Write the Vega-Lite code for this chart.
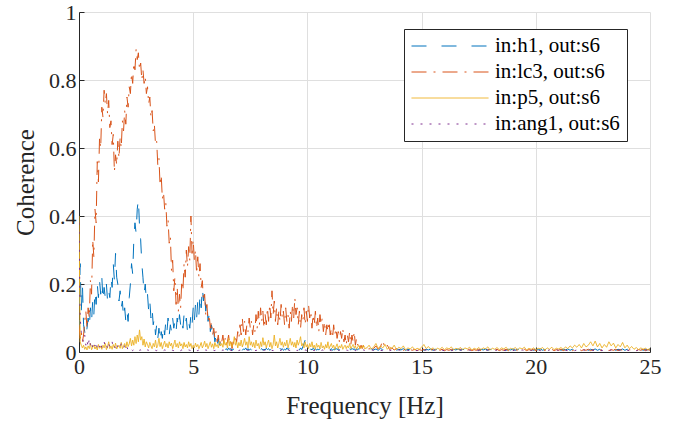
{
  "$schema": "https://vega.github.io/schema/vega-lite/v6.json",
  "width": 571,
  "height": 340,
  "autosize": "none",
  "padding": {"left": 79, "top": 12, "right": 25, "bottom": 71},
  "background": "white",
  "config": {
    "view": {"stroke": null},
    "font": "Liberation Serif",
    "axis": {
      "labelFont": "Liberation Serif", "titleFont": "Liberation Serif",
      "labelFontSize": 22, "titleFontSize": 25, "titleFontWeight": "normal",
      "labelColor": "#262626", "titleColor": "#262626",
      "domainColor": "#262626", "tickColor": "#262626", "gridColor": "#dfdfdf",
      "tickSize": -5, "domainWidth": 1, "tickWidth": 1, "gridWidth": 1
    }
  },
  "datasets": {
    "names": [
      {"k": "h", "name": "in:h1, out:s6"},
      {"k": "l", "name": "in:lc3, out:s6"},
      {"k": "p", "name": "in:p5, out:s6"},
      {"k": "a", "name": "in:ang1, out:s6"}
    ],
    "main": [
{"f":0,"h":0.05,"l":0.08,"p":0.4,"a":0.38},
{"f":0.05,"h":0.26,"l":0.04,"p":0.03,"a":0.1},
{"f":0.1,"h":0.12,"l":0.06,"p":0.02,"a":0.06},
{"f":0.15,"h":0.2,"l":0.03,"p":0.012,"a":0.04},
{"f":0.2,"h":0.08,"l":0.05,"p":0.02,"a":0.03},
{"f":0.25,"h":0.06,"l":0.09,"p":0.008,"a":0.05},
{"f":0.3,"h":0.04,"l":0.12,"p":0.015,"a":0.02},
{"f":0.35,"h":0.07,"l":0.07,"p":0.006,"a":0.035},
{"f":0.4,"h":0.1,"l":0.13,"p":0.018,"a":0.015},
{"f":0.45,"h":0.07,"l":0.1,"p":0.01,"a":0.04},
{"f":0.5,"h":0.13,"l":0.21,"p":0.025,"a":0.02},
{"f":0.55,"h":0.09,"l":0.17,"p":0.007,"a":0.03},
{"f":0.6,"h":0.15,"l":0.33,"p":0.014,"a":0.012},
{"f":0.65,"h":0.11,"l":0.28,"p":0.02,"a":0.025},
{"f":0.7,"h":0.18,"l":0.42,"p":0.009,"a":0.018},
{"f":0.75,"h":0.14,"l":0.38,"p":0.016,"a":0.03},
{"f":0.8,"h":0.2,"l":0.56,"p":0.006,"a":0.01},
{"f":0.85,"h":0.16,"l":0.5,"p":0.022,"a":0.022},
{"f":0.9,"h":0.21,"l":0.63,"p":0.011,"a":0.015},
{"f":0.95,"h":0.17,"l":0.6,"p":0.017,"a":0.028},
{"f":1,"h":0.22,"l":0.72,"p":0.008,"a":0.012},
{"f":1.05,"h":0.15,"l":0.69,"p":0.02,"a":0.02},
{"f":1.1,"h":0.19,"l":0.77,"p":0.012,"a":0.03},
{"f":1.15,"h":0.16,"l":0.73,"p":0.025,"a":0.015},
{"f":1.2,"h":0.2,"l":0.76,"p":0.007,"a":0.022},
{"f":1.25,"h":0.15,"l":0.7,"p":0.015,"a":0.01},
{"f":1.3,"h":0.18,"l":0.74,"p":0.03,"a":0.025},
{"f":1.35,"h":0.16,"l":0.66,"p":0.01,"a":0.014},
{"f":1.4,"h":0.22,"l":0.68,"p":0.018,"a":0.02},
{"f":1.45,"h":0.19,"l":0.61,"p":0.008,"a":0.03},
{"f":1.5,"h":0.26,"l":0.64,"p":0.022,"a":0.012},
{"f":1.55,"h":0.21,"l":0.53,"p":0.012,"a":0.018},
{"f":1.6,"h":0.29,"l":0.58,"p":0.026,"a":0.01},
{"f":1.65,"h":0.22,"l":0.55,"p":0.009,"a":0.024},
{"f":1.7,"h":0.2,"l":0.62,"p":0.016,"a":0.015},
{"f":1.75,"h":0.15,"l":0.57,"p":0.02,"a":0.02},
{"f":1.8,"h":0.18,"l":0.63,"p":0.011,"a":0.012},
{"f":1.85,"h":0.13,"l":0.6,"p":0.028,"a":0.025},
{"f":1.9,"h":0.15,"l":0.68,"p":0.01,"a":0.015},
{"f":1.95,"h":0.1,"l":0.65,"p":0.018,"a":0.01},
{"f":2,"h":0.13,"l":0.71,"p":0.025,"a":0.02},
{"f":2.05,"h":0.09,"l":0.67,"p":0.012,"a":0.008},
{"f":2.1,"h":0.12,"l":0.75,"p":0.03,"a":0.014},
{"f":2.15,"h":0.09,"l":0.72,"p":0.016,"a":0.006},
{"f":2.2,"h":0.16,"l":0.78,"p":0.024,"a":0.01},
{"f":2.25,"h":0.2,"l":0.76,"p":0.04,"a":0.005},
{"f":2.3,"h":0.26,"l":0.82,"p":0.018,"a":0.008},
{"f":2.35,"h":0.23,"l":0.79,"p":0.035,"a":0.004},
{"f":2.4,"h":0.33,"l":0.85,"p":0.02,"a":0.007},
{"f":2.45,"h":0.38,"l":0.83,"p":0.045,"a":0.005},
{"f":2.5,"h":0.35,"l":0.89,"p":0.025,"a":0.006},
{"f":2.55,"h":0.42,"l":0.86,"p":0.05,"a":0.004},
{"f":2.6,"h":0.45,"l":0.88,"p":0.03,"a":0.007},
{"f":2.65,"h":0.37,"l":0.83,"p":0.065,"a":0.005},
{"f":2.7,"h":0.33,"l":0.85,"p":0.035,"a":0.006},
{"f":2.75,"h":0.26,"l":0.8,"p":0.045,"a":0.004},
{"f":2.8,"h":0.22,"l":0.83,"p":0.02,"a":0.006},
{"f":2.85,"h":0.17,"l":0.79,"p":0.038,"a":0.005},
{"f":2.9,"h":0.2,"l":0.81,"p":0.015,"a":0.007},
{"f":2.95,"h":0.15,"l":0.76,"p":0.03,"a":0.004},
{"f":3,"h":0.17,"l":0.78,"p":0.022,"a":0.006},
{"f":3.05,"h":0.12,"l":0.73,"p":0.012,"a":0.005},
{"f":3.1,"h":0.15,"l":0.75,"p":0.028,"a":0.004},
{"f":3.15,"h":0.1,"l":0.69,"p":0.018,"a":0.006},
{"f":3.2,"h":0.13,"l":0.71,"p":0.01,"a":0.005},
{"f":3.25,"h":0.08,"l":0.65,"p":0.025,"a":0.004},
{"f":3.3,"h":0.1,"l":0.67,"p":0.015,"a":0.006},
{"f":3.35,"h":0.05,"l":0.61,"p":0.035,"a":0.005},
{"f":3.4,"h":0.08,"l":0.62,"p":0.012,"a":0.004},
{"f":3.45,"h":0.04,"l":0.55,"p":0.02,"a":0.006},
{"f":3.5,"h":0.07,"l":0.57,"p":0.04,"a":0.005},
{"f":3.55,"h":0.03,"l":0.49,"p":0.016,"a":0.004},
{"f":3.6,"h":0.06,"l":0.52,"p":0.028,"a":0.006},
{"f":3.65,"h":0.04,"l":0.45,"p":0.01,"a":0.005},
{"f":3.7,"h":0.08,"l":0.47,"p":0.022,"a":0.004},
{"f":3.75,"h":0.05,"l":0.42,"p":0.032,"a":0.006},
{"f":3.8,"h":0.09,"l":0.44,"p":0.015,"a":0.005},
{"f":3.85,"h":0.06,"l":0.37,"p":0.025,"a":0.004},
{"f":3.9,"h":0.1,"l":0.39,"p":0.012,"a":0.006},
{"f":3.95,"h":0.05,"l":0.32,"p":0.03,"a":0.005},
{"f":4,"h":0.08,"l":0.34,"p":0.018,"a":0.004},
{"f":4.05,"h":0.06,"l":0.24,"p":0.026,"a":0.006},
{"f":4.1,"h":0.1,"l":0.27,"p":0.01,"a":0.005},
{"f":4.15,"h":0.07,"l":0.18,"p":0.022,"a":0.004},
{"f":4.2,"h":0.09,"l":0.22,"p":0.035,"a":0.006},
{"f":4.25,"h":0.06,"l":0.14,"p":0.015,"a":0.005},
{"f":4.3,"h":0.1,"l":0.19,"p":0.025,"a":0.004},
{"f":4.35,"h":0.07,"l":0.12,"p":0.012,"a":0.006},
{"f":4.4,"h":0.11,"l":0.17,"p":0.03,"a":0.005},
{"f":4.45,"h":0.08,"l":0.13,"p":0.018,"a":0.004},
{"f":4.5,"h":0.1,"l":0.21,"p":0.024,"a":0.006},
{"f":4.55,"h":0.07,"l":0.18,"p":0.01,"a":0.005},
{"f":4.6,"h":0.11,"l":0.26,"p":0.028,"a":0.004},
{"f":4.65,"h":0.08,"l":0.22,"p":0.015,"a":0.006},
{"f":4.7,"h":0.1,"l":0.3,"p":0.022,"a":0.005},
{"f":4.75,"h":0.06,"l":0.25,"p":0.012,"a":0.004},
{"f":4.8,"h":0.09,"l":0.31,"p":0.03,"a":0.006},
{"f":4.85,"h":0.07,"l":0.27,"p":0.016,"a":0.005},
{"f":4.9,"h":0.11,"l":0.4,"p":0.025,"a":0.004},
{"f":4.95,"h":0.08,"l":0.29,"p":0.01,"a":0.006},
{"f":5,"h":0.13,"l":0.33,"p":0.02,"a":0.005},
{"f":5.05,"h":0.09,"l":0.27,"p":0.012,"a":0.004},
{"f":5.1,"h":0.14,"l":0.3,"p":0.026,"a":0.006},
{"f":5.15,"h":0.1,"l":0.23,"p":0.015,"a":0.005},
{"f":5.2,"h":0.15,"l":0.28,"p":0.022,"a":0.004},
{"f":5.25,"h":0.11,"l":0.22,"p":0.01,"a":0.006},
{"f":5.3,"h":0.17,"l":0.26,"p":0.018,"a":0.005},
{"f":5.35,"h":0.13,"l":0.19,"p":0.028,"a":0.004},
{"f":5.4,"h":0.19,"l":0.21,"p":0.012,"a":0.006},
{"f":5.45,"h":0.15,"l":0.15,"p":0.02,"a":0.005},
{"f":5.5,"h":0.18,"l":0.17,"p":0.032,"a":0.004},
{"f":5.55,"h":0.12,"l":0.11,"p":0.015,"a":0.006},
{"f":5.6,"h":0.15,"l":0.14,"p":0.025,"a":0.005},
{"f":5.65,"h":0.09,"l":0.09,"p":0.01,"a":0.004},
{"f":5.7,"h":0.11,"l":0.11,"p":0.02,"a":0.006},
{"f":5.75,"h":0.06,"l":0.07,"p":0.03,"a":0.005},
{"f":5.8,"h":0.08,"l":0.09,"p":0.014,"a":0.004},
{"f":5.85,"h":0.04,"l":0.05,"p":0.024,"a":0.006},
{"f":5.9,"h":0.06,"l":0.07,"p":0.01,"a":0.005},
{"f":5.95,"h":0.03,"l":0.04,"p":0.028,"a":0.004},
{"f":6,"h":0.05,"l":0.06,"p":0.016,"a":0.006},
{"f":6.05,"h":0.02,"l":0.03,"p":0.022,"a":0.005},
{"f":6.1,"h":0.04,"l":0.05,"p":0.012,"a":0.004},
{"f":6.15,"h":0.02,"l":0.02,"p":0.03,"a":0.006},
{"f":6.2,"h":0.03,"l":0.04,"p":0.018,"a":0.005},
{"f":6.25,"h":0.012,"l":0.03,"p":0.025,"a":0.004},
{"f":6.3,"h":0.008,"l":0.05,"p":0.014,"a":0.006},
{"f":6.35,"h":0.015,"l":0.02,"p":0.035,"a":0.005},
{"f":6.4,"h":0.006,"l":0.04,"p":0.02,"a":0.004},
{"f":6.45,"h":0.01,"l":0.02,"p":0.028,"a":0.006},
{"f":6.5,"h":0.005,"l":0.03,"p":0.012,"a":0.005},
{"f":6.55,"h":0.012,"l":0.05,"p":0.04,"a":0.004},
{"f":6.6,"h":0.007,"l":0.02,"p":0.018,"a":0.006},
{"f":6.65,"h":0.01,"l":0.04,"p":0.03,"a":0.005},
{"f":6.7,"h":0.004,"l":0.01,"p":0.015,"a":0.004},
{"f":6.75,"h":0.009,"l":0.03,"p":0.025,"a":0.006},
{"f":6.8,"h":0.006,"l":0.02,"p":0.045,"a":0.005},
{"f":6.85,"h":0.012,"l":0.05,"p":0.02,"a":0.004},
{"f":6.9,"h":0.005,"l":0.03,"p":0.03,"a":0.006},
{"f":6.95,"h":0.008,"l":0.06,"p":0.012,"a":0.005},
{"f":7,"h":0.01,"l":0.04,"p":0.028,"a":0.004},
{"f":7.05,"h":0.006,"l":0.08,"p":0.018,"a":0.006},
{"f":7.1,"h":0.012,"l":0.05,"p":0.035,"a":0.005},
{"f":7.15,"h":0.005,"l":0.1,"p":0.015,"a":0.004},
{"f":7.2,"h":0.009,"l":0.06,"p":0.025,"a":0.006},
{"f":7.25,"h":0.007,"l":0.09,"p":0.04,"a":0.005},
{"f":7.3,"h":0.012,"l":0.05,"p":0.02,"a":0.004},
{"f":7.35,"h":0.006,"l":0.08,"p":0.03,"a":0.006},
{"f":7.4,"h":0.01,"l":0.06,"p":0.012,"a":0.005},
{"f":7.45,"h":0.005,"l":0.1,"p":0.045,"a":0.004},
{"f":7.5,"h":0.009,"l":0.07,"p":0.02,"a":0.006},
{"f":7.55,"h":0.006,"l":0.09,"p":0.03,"a":0.005},
{"f":7.6,"h":0.011,"l":0.05,"p":0.015,"a":0.004},
{"f":7.65,"h":0.007,"l":0.08,"p":0.028,"a":0.006},
{"f":7.7,"h":0.01,"l":0.06,"p":0.012,"a":0.005},
{"f":7.75,"h":0.005,"l":0.11,"p":0.035,"a":0.004},
{"f":7.8,"h":0.009,"l":0.07,"p":0.018,"a":0.006},
{"f":7.85,"h":0.006,"l":0.12,"p":0.025,"a":0.005},
{"f":7.9,"h":0.012,"l":0.08,"p":0.01,"a":0.004},
{"f":7.95,"h":0.007,"l":0.13,"p":0.03,"a":0.006},
{"f":8,"h":0.01,"l":0.09,"p":0.016,"a":0.005},
{"f":8.05,"h":0.005,"l":0.12,"p":0.042,"a":0.004},
{"f":8.1,"h":0.008,"l":0.07,"p":0.02,"a":0.006},
{"f":8.15,"h":0.006,"l":0.11,"p":0.03,"a":0.005},
{"f":8.2,"h":0.011,"l":0.08,"p":0.012,"a":0.004},
{"f":8.25,"h":0.007,"l":0.13,"p":0.025,"a":0.006},
{"f":8.3,"h":0.01,"l":0.09,"p":0.035,"a":0.005},
{"f":8.35,"h":0.005,"l":0.14,"p":0.015,"a":0.004},
{"f":8.4,"h":0.009,"l":0.1,"p":0.028,"a":0.006},
{"f":8.45,"h":0.006,"l":0.18,"p":0.01,"a":0.005},
{"f":8.5,"h":0.012,"l":0.11,"p":0.022,"a":0.004},
{"f":8.55,"h":0.007,"l":0.15,"p":0.05,"a":0.006},
{"f":8.6,"h":0.01,"l":0.09,"p":0.018,"a":0.005},
{"f":8.65,"h":0.005,"l":0.13,"p":0.03,"a":0.004},
{"f":8.7,"h":0.009,"l":0.08,"p":0.012,"a":0.006},
{"f":8.75,"h":0.006,"l":0.12,"p":0.025,"a":0.005},
{"f":8.8,"h":0.011,"l":0.09,"p":0.04,"a":0.004},
{"f":8.85,"h":0.007,"l":0.14,"p":0.02,"a":0.006},
{"f":8.9,"h":0.01,"l":0.1,"p":0.03,"a":0.005},
{"f":8.95,"h":0.005,"l":0.12,"p":0.014,"a":0.004},
{"f":9,"h":0.008,"l":0.08,"p":0.028,"a":0.006},
{"f":9.05,"h":0.006,"l":0.13,"p":0.018,"a":0.005},
{"f":9.1,"h":0.012,"l":0.09,"p":0.035,"a":0.004},
{"f":9.15,"h":0.007,"l":0.11,"p":0.012,"a":0.006},
{"f":9.2,"h":0.01,"l":0.07,"p":0.025,"a":0.005},
{"f":9.25,"h":0.005,"l":0.12,"p":0.04,"a":0.004},
{"f":9.3,"h":0.009,"l":0.09,"p":0.02,"a":0.006},
{"f":9.35,"h":0.006,"l":0.14,"p":0.03,"a":0.005},
{"f":9.4,"h":0.011,"l":0.1,"p":0.015,"a":0.004},
{"f":9.45,"h":0.007,"l":0.16,"p":0.028,"a":0.006},
{"f":9.5,"h":0.01,"l":0.11,"p":0.012,"a":0.005},
{"f":9.55,"h":0.005,"l":0.13,"p":0.035,"a":0.004},
{"f":9.6,"h":0.009,"l":0.08,"p":0.02,"a":0.006},
{"f":9.65,"h":0.006,"l":0.12,"p":0.03,"a":0.005},
{"f":9.7,"h":0.012,"l":0.07,"p":0.045,"a":0.004},
{"f":9.75,"h":0.007,"l":0.11,"p":0.018,"a":0.006},
{"f":9.8,"h":0.015,"l":0.09,"p":0.025,"a":0.005},
{"f":9.85,"h":0.025,"l":0.13,"p":0.012,"a":0.004},
{"f":9.9,"h":0.035,"l":0.08,"p":0.03,"a":0.006},
{"f":9.95,"h":0.012,"l":0.12,"p":0.015,"a":0.005},
{"f":10,"h":0.006,"l":0.09,"p":0.022,"a":0.004},
{"f":10.05,"h":0.01,"l":0.14,"p":0.01,"a":0.006},
{"f":10.1,"h":0.005,"l":0.1,"p":0.025,"a":0.005},
{"f":10.15,"h":0.009,"l":0.12,"p":0.015,"a":0.004},
{"f":10.2,"h":0.006,"l":0.07,"p":0.03,"a":0.006},
{"f":10.25,"h":0.011,"l":0.11,"p":0.012,"a":0.005},
{"f":10.3,"h":0.007,"l":0.08,"p":0.02,"a":0.004},
{"f":10.35,"h":0.01,"l":0.12,"p":0.008,"a":0.006},
{"f":10.4,"h":0.005,"l":0.07,"p":0.025,"a":0.005},
{"f":10.45,"h":0.009,"l":0.1,"p":0.014,"a":0.004},
{"f":10.5,"h":0.006,"l":0.06,"p":0.02,"a":0.006},
{"f":10.55,"h":0.01,"l":0.11,"p":0.01,"a":0.005},
{"f":10.6,"h":0.005,"l":0.08,"p":0.028,"a":0.004},
{"f":10.65,"h":0.008,"l":0.1,"p":0.012,"a":0.006},
{"f":10.7,"h":0.006,"l":0.06,"p":0.018,"a":0.005},
{"f":10.75,"h":0.011,"l":0.09,"p":0.008,"a":0.004},
{"f":10.8,"h":0.007,"l":0.05,"p":0.022,"a":0.006},
{"f":10.85,"h":0.01,"l":0.08,"p":0.012,"a":0.005},
{"f":10.9,"h":0.005,"l":0.06,"p":0.03,"a":0.004},
{"f":10.95,"h":0.009,"l":0.09,"p":0.01,"a":0.006},
{"f":11,"h":0.006,"l":0.05,"p":0.018,"a":0.005},
{"f":11.05,"h":0.01,"l":0.07,"p":0.025,"a":0.004},
{"f":11.1,"h":0.005,"l":0.04,"p":0.012,"a":0.006},
{"f":11.15,"h":0.008,"l":0.08,"p":0.02,"a":0.005},
{"f":11.2,"h":0.006,"l":0.05,"p":0.008,"a":0.004},
{"f":11.25,"h":0.011,"l":0.07,"p":0.016,"a":0.006},
{"f":11.3,"h":0.007,"l":0.04,"p":0.024,"a":0.005},
{"f":11.35,"h":0.01,"l":0.06,"p":0.01,"a":0.004},
{"f":11.4,"h":0.005,"l":0.03,"p":0.018,"a":0.006},
{"f":11.45,"h":0.009,"l":0.06,"p":0.012,"a":0.005},
{"f":11.5,"h":0.006,"l":0.04,"p":0.022,"a":0.004},
{"f":11.55,"h":0.01,"l":0.07,"p":0.008,"a":0.006},
{"f":11.6,"h":0.005,"l":0.03,"p":0.015,"a":0.005},
{"f":11.65,"h":0.008,"l":0.05,"p":0.02,"a":0.004},
{"f":11.7,"h":0.006,"l":0.02,"p":0.01,"a":0.006},
{"f":11.75,"h":0.01,"l":0.05,"p":0.018,"a":0.005},
{"f":11.8,"h":0.005,"l":0.03,"p":0.012,"a":0.004},
{"f":11.85,"h":0.009,"l":0.06,"p":0.025,"a":0.006},
{"f":11.9,"h":0.006,"l":0.02,"p":0.01,"a":0.005},
{"f":11.95,"h":0.011,"l":0.05,"p":0.016,"a":0.004},
{"f":12,"h":0.007,"l":0.03,"p":0.022,"a":0.006},
{"f":12.05,"h":0.01,"l":0.06,"p":0.012,"a":0.005},
{"f":12.1,"h":0.005,"l":0.02,"p":0.018,"a":0.004},
{"f":12.15,"h":0.009,"l":0.04,"p":0.008,"a":0.006},
{"f":12.2,"h":0.006,"l":0.02,"p":0.014,"a":0.005},
{"f":12.25,"h":0.01,"l":0.03,"p":0.02,"a":0.004},
{"f":12.3,"h":0.005,"l":0.01,"p":0.01,"a":0.006},
{"f":12.35,"h":0.008,"l":0.02,"p":0.016,"a":0.005},
{"f":12.4,"h":0.006,"l":0.01,"p":0.012,"a":0.004},
{"f":12.45,"h":0.01,"l":0.02,"p":0.02,"a":0.006},
{"f":12.5,"h":0.005,"l":0.01,"p":0.01,"a":0.005},
{"f":12.6,"h":0.008,"l":0.015,"p":0.012,"a":0.005},
{"f":12.7,"h":0.005,"l":0.008,"p":0.02,"a":0.004},
{"f":12.8,"h":0.01,"l":0.02,"p":0.008,"a":0.006},
{"f":12.9,"h":0.006,"l":0.01,"p":0.015,"a":0.005},
{"f":13,"h":0.009,"l":0.018,"p":0.025,"a":0.004},
{"f":13.1,"h":0.005,"l":0.008,"p":0.01,"a":0.006},
{"f":13.2,"h":0.011,"l":0.015,"p":0.018,"a":0.005},
{"f":13.3,"h":0.006,"l":0.035,"p":0.012,"a":0.004},
{"f":13.4,"h":0.009,"l":0.01,"p":0.022,"a":0.006},
{"f":13.5,"h":0.005,"l":0.02,"p":0.008,"a":0.005},
{"f":13.6,"h":0.008,"l":0.007,"p":0.015,"a":0.004},
{"f":13.7,"h":0.006,"l":0.012,"p":0.01,"a":0.006},
{"f":13.8,"h":0.01,"l":0.006,"p":0.02,"a":0.005},
{"f":13.9,"h":0.005,"l":0.01,"p":0.007,"a":0.004},
{"f":14,"h":0.008,"l":0.005,"p":0.014,"a":0.006},
{"f":14.1,"h":0.006,"l":0.009,"p":0.01,"a":0.005},
{"f":14.2,"h":0.01,"l":0.005,"p":0.018,"a":0.004},
{"f":14.3,"h":0.005,"l":0.008,"p":0.006,"a":0.006},
{"f":14.4,"h":0.008,"l":0.004,"p":0.012,"a":0.005},
{"f":14.5,"h":0.006,"l":0.007,"p":0.009,"a":0.004},
{"f":14.6,"h":0.009,"l":0.005,"p":0.015,"a":0.006},
{"f":14.7,"h":0.005,"l":0.008,"p":0.006,"a":0.005},
{"f":14.8,"h":0.008,"l":0.004,"p":0.011,"a":0.004},
{"f":14.9,"h":0.006,"l":0.007,"p":0.008,"a":0.006},
{"f":15,"h":0.01,"l":0.005,"p":0.014,"a":0.005},
{"f":15.1,"h":0.005,"l":0.008,"p":0.022,"a":0.004},
{"f":15.2,"h":0.008,"l":0.004,"p":0.01,"a":0.006},
{"f":15.3,"h":0.006,"l":0.007,"p":0.016,"a":0.005},
{"f":15.4,"h":0.009,"l":0.005,"p":0.008,"a":0.004},
{"f":15.5,"h":0.005,"l":0.008,"p":0.012,"a":0.006},
{"f":15.6,"h":0.008,"l":0.004,"p":0.006,"a":0.005},
{"f":15.7,"h":0.006,"l":0.007,"p":0.011,"a":0.004},
{"f":15.8,"h":0.009,"l":0.005,"p":0.008,"a":0.006},
{"f":15.9,"h":0.005,"l":0.008,"p":0.014,"a":0.005},
{"f":16,"h":0.008,"l":0.004,"p":0.007,"a":0.004},
{"f":16.1,"h":0.006,"l":0.007,"p":0.012,"a":0.006},
{"f":16.2,"h":0.009,"l":0.005,"p":0.009,"a":0.005},
{"f":16.3,"h":0.005,"l":0.008,"p":0.015,"a":0.004},
{"f":16.4,"h":0.008,"l":0.004,"p":0.006,"a":0.006},
{"f":16.5,"h":0.006,"l":0.007,"p":0.011,"a":0.005},
{"f":16.6,"h":0.009,"l":0.005,"p":0.008,"a":0.004},
{"f":16.7,"h":0.005,"l":0.008,"p":0.013,"a":0.006},
{"f":16.8,"h":0.008,"l":0.004,"p":0.007,"a":0.005},
{"f":16.9,"h":0.006,"l":0.007,"p":0.012,"a":0.004},
{"f":17,"h":0.009,"l":0.005,"p":0.009,"a":0.006},
{"f":17.1,"h":0.005,"l":0.008,"p":0.014,"a":0.005},
{"f":17.2,"h":0.008,"l":0.004,"p":0.006,"a":0.004},
{"f":17.3,"h":0.006,"l":0.007,"p":0.011,"a":0.006},
{"f":17.4,"h":0.009,"l":0.005,"p":0.008,"a":0.005},
{"f":17.5,"h":0.005,"l":0.008,"p":0.013,"a":0.004},
{"f":17.6,"h":0.008,"l":0.004,"p":0.007,"a":0.006},
{"f":17.7,"h":0.006,"l":0.007,"p":0.012,"a":0.005},
{"f":17.8,"h":0.009,"l":0.005,"p":0.009,"a":0.004},
{"f":17.9,"h":0.005,"l":0.008,"p":0.015,"a":0.006},
{"f":18,"h":0.008,"l":0.004,"p":0.006,"a":0.005},
{"f":18.1,"h":0.006,"l":0.007,"p":0.011,"a":0.004},
{"f":18.2,"h":0.009,"l":0.005,"p":0.008,"a":0.006},
{"f":18.3,"h":0.005,"l":0.008,"p":0.013,"a":0.005},
{"f":18.4,"h":0.008,"l":0.004,"p":0.007,"a":0.004},
{"f":18.5,"h":0.006,"l":0.007,"p":0.012,"a":0.006},
{"f":18.6,"h":0.009,"l":0.005,"p":0.009,"a":0.005},
{"f":18.7,"h":0.005,"l":0.008,"p":0.014,"a":0.004},
{"f":18.8,"h":0.008,"l":0.004,"p":0.006,"a":0.006},
{"f":18.9,"h":0.006,"l":0.007,"p":0.011,"a":0.005},
{"f":19,"h":0.009,"l":0.005,"p":0.008,"a":0.004},
{"f":19.1,"h":0.005,"l":0.008,"p":0.013,"a":0.006},
{"f":19.2,"h":0.008,"l":0.004,"p":0.007,"a":0.005},
{"f":19.3,"h":0.006,"l":0.007,"p":0.012,"a":0.004},
{"f":19.4,"h":0.009,"l":0.005,"p":0.009,"a":0.006},
{"f":19.5,"h":0.005,"l":0.008,"p":0.014,"a":0.005},
{"f":19.6,"h":0.008,"l":0.004,"p":0.006,"a":0.004},
{"f":19.7,"h":0.006,"l":0.007,"p":0.011,"a":0.006},
{"f":19.8,"h":0.009,"l":0.005,"p":0.008,"a":0.005},
{"f":19.9,"h":0.005,"l":0.008,"p":0.012,"a":0.004},
{"f":20,"h":0.008,"l":0.004,"p":0.007,"a":0.006},
{"f":20.1,"h":0.006,"l":0.007,"p":0.011,"a":0.005},
{"f":20.2,"h":0.009,"l":0.005,"p":0.009,"a":0.004},
{"f":20.3,"h":0.005,"l":0.008,"p":0.013,"a":0.006},
{"f":20.4,"h":0.008,"l":0.004,"p":0.006,"a":0.005},
{"f":20.5,"h":0.006,"l":0.007,"p":0.012,"a":0.004},
{"f":20.6,"h":0.009,"l":0.005,"p":0.008,"a":0.006},
{"f":20.7,"h":0.005,"l":0.008,"p":0.014,"a":0.005},
{"f":20.8,"h":0.008,"l":0.004,"p":0.007,"a":0.004},
{"f":20.9,"h":0.006,"l":0.007,"p":0.011,"a":0.006},
{"f":21,"h":0.009,"l":0.005,"p":0.009,"a":0.005},
{"f":21.1,"h":0.005,"l":0.008,"p":0.013,"a":0.004},
{"f":21.2,"h":0.008,"l":0.004,"p":0.008,"a":0.006},
{"f":21.3,"h":0.006,"l":0.007,"p":0.015,"a":0.005},
{"f":21.4,"h":0.009,"l":0.005,"p":0.01,"a":0.004},
{"f":21.5,"h":0.005,"l":0.008,"p":0.018,"a":0.006},
{"f":21.6,"h":0.008,"l":0.004,"p":0.012,"a":0.005},
{"f":21.7,"h":0.006,"l":0.007,"p":0.02,"a":0.004},
{"f":21.8,"h":0.009,"l":0.005,"p":0.014,"a":0.006},
{"f":21.9,"h":0.005,"l":0.008,"p":0.022,"a":0.005},
{"f":22,"h":0.008,"l":0.004,"p":0.012,"a":0.004},
{"f":22.1,"h":0.006,"l":0.007,"p":0.025,"a":0.006},
{"f":22.2,"h":0.009,"l":0.005,"p":0.015,"a":0.005},
{"f":22.3,"h":0.005,"l":0.008,"p":0.02,"a":0.004},
{"f":22.4,"h":0.008,"l":0.004,"p":0.03,"a":0.006},
{"f":22.5,"h":0.006,"l":0.007,"p":0.018,"a":0.005},
{"f":22.6,"h":0.009,"l":0.005,"p":0.032,"a":0.004},
{"f":22.7,"h":0.005,"l":0.008,"p":0.015,"a":0.006},
{"f":22.8,"h":0.008,"l":0.004,"p":0.025,"a":0.005},
{"f":22.9,"h":0.006,"l":0.007,"p":0.012,"a":0.004},
{"f":23,"h":0.009,"l":0.005,"p":0.022,"a":0.006},
{"f":23.1,"h":0.005,"l":0.008,"p":0.014,"a":0.005},
{"f":23.2,"h":0.008,"l":0.004,"p":0.03,"a":0.004},
{"f":23.3,"h":0.006,"l":0.007,"p":0.018,"a":0.006},
{"f":23.4,"h":0.009,"l":0.005,"p":0.026,"a":0.005},
{"f":23.5,"h":0.005,"l":0.008,"p":0.012,"a":0.004},
{"f":23.6,"h":0.008,"l":0.004,"p":0.022,"a":0.006},
{"f":23.7,"h":0.006,"l":0.007,"p":0.015,"a":0.005},
{"f":23.8,"h":0.009,"l":0.005,"p":0.028,"a":0.004},
{"f":23.9,"h":0.005,"l":0.008,"p":0.012,"a":0.006},
{"f":24,"h":0.008,"l":0.004,"p":0.02,"a":0.005},
{"f":24.1,"h":0.006,"l":0.007,"p":0.01,"a":0.004},
{"f":24.2,"h":0.009,"l":0.005,"p":0.016,"a":0.006},
{"f":24.3,"h":0.005,"l":0.008,"p":0.008,"a":0.005},
{"f":24.4,"h":0.008,"l":0.004,"p":0.013,"a":0.004},
{"f":24.5,"h":0.006,"l":0.007,"p":0.007,"a":0.006},
{"f":24.6,"h":0.009,"l":0.005,"p":0.012,"a":0.005},
{"f":24.7,"h":0.005,"l":0.008,"p":0.008,"a":0.004},
{"f":24.8,"h":0.008,"l":0.004,"p":0.011,"a":0.006},
{"f":24.9,"h":0.006,"l":0.007,"p":0.007,"a":0.005},
{"f":25,"h":0.009,"l":0.005,"p":0.01,"a":0.004}
    ]
  },
  "data": {"name": "main"},
  "transform": [
    {"fold": ["h", "l", "p", "a"], "as": ["k", "v"]},
    {"lookup": "k", "from": {"data": {"name": "names"}, "key": "k", "fields": ["name"]}}
  ],
  "mark": {"type": "line", "strokeWidth": 1, "clip": true},
  "encoding": {
    "x": {
      "field": "f", "type": "quantitative",
      "scale": {"domain": [0, 25], "nice": false},
      "axis": {"values": [0, 5, 10, 15, 20, 25], "title": "Frequency [Hz]", "labelPadding": 9, "titlePadding": 16, "grid": true, "labelFlush": false}
    },
    "y": {
      "field": "v", "type": "quantitative",
      "scale": {"domain": [0, 1], "nice": false},
      "axis": {"values": [0, 0.2, 0.4, 0.6, 0.8, 1], "format": "~g", "title": "Coherence", "labelPadding": 8, "titlePadding": 10, "grid": true, "labelFlush": false}
    },
    "color": {
      "field": "name", "type": "nominal",
      "scale": {"domain": ["in:h1, out:s6", "in:lc3, out:s6", "in:p5, out:s6", "in:ang1, out:s6"], "range": ["#0072BD", "#D95319", "#EDB120", "#7E2F8E"]},
      "legend": {"title": null, "orient": "none", "legendX": 325, "legendY": 17, "symbolType": "stroke", "symbolSize": 5929, "symbolStrokeWidth": 1, "clipHeight": 20, "rowPadding": 5, "labelOffset": 6, "labelFont": "Liberation Serif", "labelFontSize": 21, "labelColor": "#000000", "strokeColor": "#262626", "fillColor": "#ffffff", "padding": 7, "labelLimit": 0}
    },
    "strokeDash": {
      "field": "name", "type": "nominal",
      "scale": {"domain": ["in:h1, out:s6", "in:lc3, out:s6", "in:p5, out:s6", "in:ang1, out:s6"], "range": [[15, 15], [15, 7, 2, 7], [1, 0], [2, 7]]},
      "legend": {"title": null, "orient": "none", "legendX": 325, "legendY": 17, "symbolType": "stroke", "symbolSize": 5929, "symbolStrokeWidth": 1, "clipHeight": 20, "rowPadding": 5, "labelOffset": 6, "labelFont": "Liberation Serif", "labelFontSize": 21, "labelColor": "#000000", "strokeColor": "#262626", "fillColor": "#ffffff", "padding": 7, "labelLimit": 0}
    }
  }
}
